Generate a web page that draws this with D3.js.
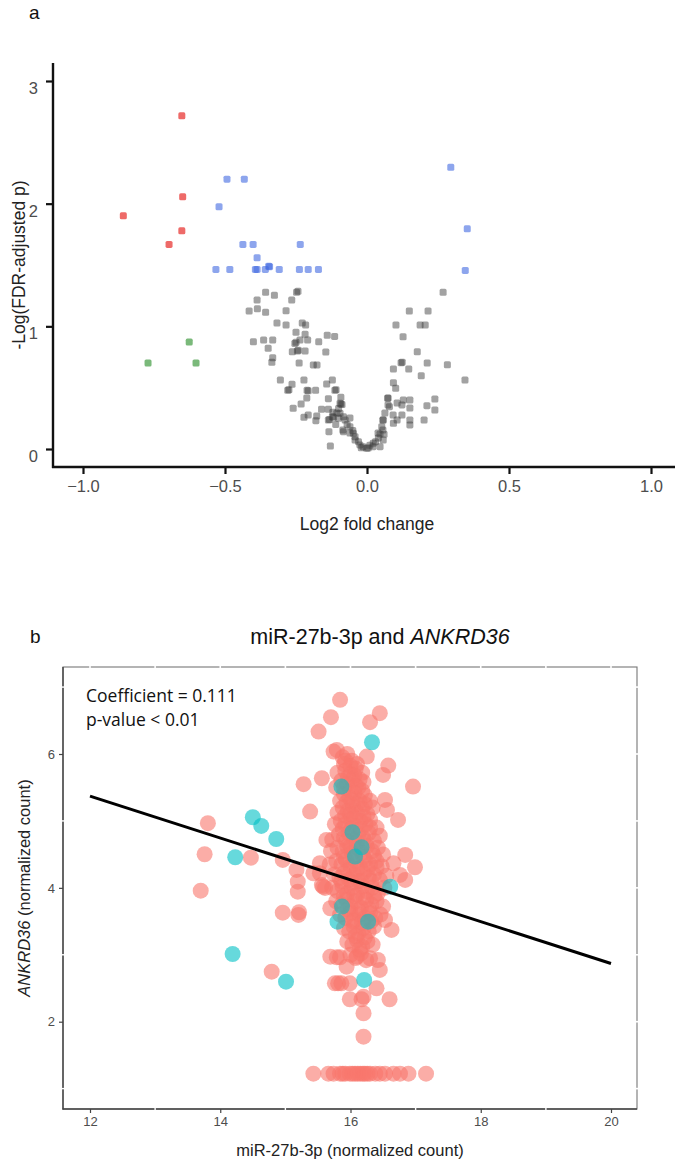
<!DOCTYPE html>
<html>
<head>
<meta charset="utf-8">
<script src="https://cdn.jsdelivr.net/npm/d3@7"></script>
<style>
  body { margin: 0; background: #fff; }
  svg { display: block; }
</style>
</head>
<body>
<svg id="fig" width="675" height="1165"></svg>
<script>
// ---- panel a: volcano data (log2 fold change, -log10 FDR p) ----
let greyPts = [[-0.357,1.277],[-0.326,1.253],[-0.387,1.214],[-0.248,1.277],[-0.243,1.285],[-0.265,1.214],[-0.415,1.125],[-0.386,1.143],[-0.357,1.114],[-0.285,1.127],[-0.317,1.027],[-0.285,1.011],[-0.228,1.027],[-0.216,1.011],[-0.25,0.951],[-0.218,0.935],[-0.14,0.927],[-0.114,0.918],[-0.4,0.874],[-0.364,0.888],[-0.332,0.888],[-0.236,0.888],[-0.209,0.888],[-0.17,0.874],[-0.254,0.861],[-0.25,0.87],[-0.348,0.821],[-0.263,0.793],[-0.245,0.799],[-0.242,0.805],[-0.218,0.799],[-0.145,0.79],[-0.332,0.744],[-0.335,0.707],[-0.239,0.701],[-0.189,0.685],[-0.176,0.685],[-0.305,0.562],[-0.222,0.562],[-0.122,0.562],[-0.264,0.527],[-0.142,0.53],[-0.279,0.478],[-0.275,0.482],[-0.211,0.478],[-0.207,0.474],[-0.181,0.478],[-0.113,0.478],[-0.109,0.482],[-0.212,0.416],[-0.136,0.41],[-0.092,0.421],[-0.232,0.367],[-0.26,0.332],[-0.092,0.367],[-0.088,0.362],[-0.16,0.324],[-0.136,0.324],[-0.207,0.277],[-0.222,0.258],[-0.177,0.269],[-0.18,0.231],[-0.136,0.236],[-0.132,0.24],[-0.122,0.263],[-0.118,0.258],[-0.134,0.141],[-0.129,0.024],[-0.083,0.141],[-0.106,0.293],[-0.06,0.253],[-0.085,0.155],[-0.06,0.13],[-0.042,0.073],[-0.014,0.019],[0.004,0.008],[0.021,0.019],[0.046,0.019],[0.039,0.13],[0.056,0.155],[0.056,0.236],[0.063,0.293],[0.074,0.416],[0.074,0.359],[0.092,0.277],[0.106,0.236],[0.123,0.277],[0.151,0.236],[0.151,0.196],[0.151,0.399],[0.151,0.334],[0.123,0.359],[0.106,0.375],[0.201,0.236],[0.211,0.353],[0.239,0.318],[0.239,0.407],[0.268,1.277],[0.149,1.125],[0.215,1.125],[0.102,1.011],[0.187,1.011],[0.205,1.011],[0.127,0.915],[0.177,0.793],[0.12,0.703],[0.124,0.708],[0.212,0.701],[0.283,0.687],[0.093,0.652],[0.147,0.652],[0.191,0.597],[0.345,0.562],[0.093,0.54],[0.101,0.495],[0.073,0.413],[0.128,0.399],[0.079,0.345],[0.057,0.236],[0.093,0.209],[0.052,0.182],[0.046,0.122],[0.057,0.073],[0.022,0.046],[-0.001,0.006],[-0.025,0.033],[-0.042,0.1],[-0.06,0.182],[-0.083,0.263],[-0.095,0.372],[-0.095,0.291],[-0.077,0.236],[-0.048,0.128],[-0.1,0.25],[-0.11,0.2],[-0.07,0.2],[-0.05,0.15],[-0.03,0.06],[0.03,0.06],[0.01,0.03],[-0.02,0.01],[0.04,0.09],[0.06,0.12],[-0.12,0.3],[-0.1,0.33]];
let bluePts = [[-0.493,2.2],[-0.432,2.2],[-0.521,1.975],[-0.437,1.668],[-0.401,1.668],[-0.235,1.668],[-0.387,1.559],[-0.532,1.464],[-0.483,1.464],[-0.393,1.464],[-0.387,1.464],[-0.358,1.464],[-0.346,1.49],[-0.343,1.486],[-0.309,1.464],[-0.238,1.464],[-0.207,1.464],[-0.171,1.464],[0.295,2.296],[0.353,1.795],[0.346,1.456]];
let redPts = [[-0.652,2.716],[-0.649,2.056],[-0.652,1.779],[-0.697,1.668],[-0.858,1.901]];
let greenPts = [[-0.626,0.872],[-0.771,0.701],[-0.602,0.701]];
let volcXTicks = [-1.0, -0.5, 0.0, 0.5, 1.0];
let volcYTicks = [0, 1, 2, 3];

// ---- panel b: miR-27b-3p vs ANKRD36 ----
let salmonPts = [
  [13.81,4.966],[13.76,4.502],[14.47,4.451],[13.70,3.958],[14.96,4.417],[14.96,3.629],[14.79,2.747],
  [15.21,3.635],[15.19,3.943],[15.19,4.093],[15.17,4.268],[15.43,4.218],[15.56,4.043],[15.61,3.999],
  [15.69,3.695],[15.69,2.972],[15.79,2.963],[15.76,2.574],[16.99,4.308],[16.63,3.371],[16.53,3.52],
  [16.42,2.922],[16.40,2.499],[16.60,2.335],[16.20,2.374],[15.99,2.335],[16.20,2.126],[16.20,1.776],
  [15.86,2.574],[16.30,2.948],[16.45,2.773],[16.76,4.193],[16.84,4.118],[15.20,3.595],[16.17,2.335],
  [15.81,2.574],[15.99,2.574],[15.84,2.963],[15.94,2.822],[16.10,2.972],[15.58,4.018],[15.53,4.218],
  [15.84,6.81],[16.45,6.61],[16.30,6.475],[15.70,6.55],[15.51,6.335],[15.79,6.061],[15.74,6.036],
  [16.25,5.961],[16.58,5.827],[16.50,5.688],[15.28,5.549],[15.56,5.638],[16.96,5.513],[15.38,5.139],
  [16.53,5.314],[16.73,5.015],[16.56,5.164],[15.63,4.716],[15.53,4.368],[16.84,4.492],[16.66,4.368],
  // bottom row (zero counts)
  [15.43,1.223],[15.66,1.223],[15.74,1.223],[15.84,1.223],[15.92,1.223],[15.99,1.223],[16.07,1.223],
  [16.15,1.223],[16.22,1.223],[16.30,1.223],[16.38,1.223],[16.45,1.223],[16.53,1.223],[16.66,1.223],
  [16.76,1.223],[16.89,1.223],[17.16,1.223],[15.88,1.223],[16.03,1.223],[16.11,1.223],[16.19,1.223],[16.26,1.223],
  // dense core
  [15.88,5.95],[15.95,6.0],[16.02,5.9],[16.1,5.85],[15.9,5.85],
  [15.92,5.75],[16.0,5.7],[16.08,5.78],[16.18,5.72],[15.8,5.72],
  [15.86,5.6],[15.95,5.55],[16.03,5.62],[16.12,5.5],[16.2,5.58],[15.78,5.5],
  [15.9,5.4],[15.98,5.35],[16.06,5.42],[16.14,5.3],[16.22,5.38],[16.3,5.3],[15.84,5.3],
  [15.88,5.2],[15.96,5.15],[16.04,5.22],[16.1,5.12],[16.18,5.18],[16.26,5.1],[16.34,5.2],[15.8,5.12],
  [15.85,5.0],[15.92,4.95],[16.0,5.02],[16.08,4.92],[16.15,5.0],[16.23,4.95],[16.3,5.02],[16.4,4.9],[15.76,4.95],
  [15.82,4.8],[15.9,4.75],[15.97,4.82],[16.05,4.72],[16.12,4.8],[16.2,4.74],[16.28,4.82],[16.36,4.7],[16.45,4.78],[15.72,4.72],
  [15.8,4.6],[15.88,4.55],[15.95,4.62],[16.02,4.52],[16.1,4.6],[16.18,4.52],[16.25,4.62],[16.33,4.55],[16.42,4.6],[16.5,4.5],[15.7,4.55],
  [15.78,4.4],[15.86,4.35],[15.93,4.42],[16.0,4.32],[16.08,4.4],[16.15,4.3],[16.22,4.42],[16.3,4.35],[16.4,4.4],[16.48,4.32],[15.68,4.35],
  [15.75,4.2],[15.83,4.15],[15.9,4.22],[15.98,4.12],[16.05,4.2],[16.12,4.1],[16.2,4.22],[16.28,4.15],[16.36,4.2],[16.45,4.12],[16.55,4.18],
  [15.72,4.0],[15.8,3.95],[15.88,4.02],[15.95,3.92],[16.02,4.0],[16.1,3.9],[16.18,4.02],[16.25,3.95],[16.33,4.0],[16.42,3.92],[16.52,4.0],
  [15.78,3.8],[15.86,3.75],[15.94,3.82],[16.0,3.72],[16.08,3.8],[16.16,3.7],[16.24,3.82],[16.32,3.75],[16.4,3.8],[16.5,3.72],
  [15.84,3.6],[15.92,3.55],[16.0,3.62],[16.06,3.52],[16.14,3.6],[16.22,3.55],[16.3,3.62],[16.38,3.55],[16.46,3.6],
  [15.9,3.4],[15.98,3.35],[16.05,3.42],[16.12,3.32],[16.2,3.4],[16.28,3.35],[16.36,3.42],
  [15.95,3.2],[16.03,3.15],[16.1,3.22],[16.18,3.12],[16.26,3.2],[16.34,3.15],
  [16.0,3.0],[16.08,2.95],[16.16,3.02],[16.24,2.92],
  // second layer of the core
  [15.92,5.9],[16.0,5.82],[16.06,5.68],[15.96,5.65],[16.14,5.62],[15.9,5.5],[16.08,5.52],[16.0,5.45],
  [16.18,5.45],[15.94,5.28],[16.1,5.25],[16.02,5.3],[16.22,5.25],[15.92,5.08],[16.06,5.05],[16.2,5.06],
  [16.0,5.1],[15.88,4.88],[16.02,4.88],[16.16,4.88],[16.3,4.9],[15.94,4.7],[16.1,4.68],[16.24,4.68],
  [16.0,4.62],[15.9,4.46],[16.06,4.48],[16.2,4.46],[16.36,4.48],[15.96,4.26],[16.1,4.28],[16.26,4.28],
  [16.4,4.3],[15.86,4.1],[16.02,4.08],[16.16,4.1],[16.32,4.1],[15.9,3.88],[16.06,3.88],[16.2,3.86],
  [16.36,3.88],[15.96,3.68],[16.12,3.66],[16.28,3.68],[16.04,3.5],[16.18,3.48],[16.32,3.5],[16.08,3.28],
  [16.22,3.26],[16.14,3.08]
];
let cyanPts = [[14.50,5.055],[14.63,4.925],[14.86,4.73],[14.23,4.457],[14.19,3.012],[15.01,2.598],[16.33,6.176],[15.86,5.513],[16.03,4.832],[16.17,4.607],[16.07,4.467],[15.80,3.495],[16.27,3.495],[16.21,2.624],[16.61,4.018],[15.87,3.72]];
let fitX = [12, 20];
let fitY = [5.37, 2.87];
let scatXTicks = [12, 14, 16, 18, 20];
let scatYTicks = [2, 4, 6];
let scatXGrid = [12, 13, 14, 15, 16, 17, 18, 19, 20];
let scatYGrid = [1, 2, 3, 4, 5, 6, 7];

let svg = d3.select("#fig");
let sans = "'Liberation Sans', Arial, Helvetica, sans-serif";
let tickGrey = "#4d4d4d";

// ================= panel a =================
let xa = d3.scaleLinear().domain([-1, 1]).range([83, 651]);
let ya = d3.scaleLinear().domain([0, 3]).range([449, 81]);

svg.append("text").attr("x", 29).attr("y", 19).text("a")
  .style("font-family", sans).style("font-size", "19px").style("fill", "#111");

let ga = svg.append("g");

// points: grey first, then significant ones
function drawSquares(data, fill, op) {
  ga.selectAll(null).data(data).enter().append("rect")
    .attr("x", d => xa(d[0]) - 3.5)
    .attr("y", d => ya(d[1]) - 3.5)
    .attr("width", 7).attr("height", 7)
    .attr("rx", 1.6)
    .attr("fill", fill)
    .attr("fill-opacity", op);
}
drawSquares(greyPts, "#3a3a3a", 0.47);
drawSquares(bluePts, "#4169e1", 0.6);
drawSquares(redPts, "#ee6a68", 1);
drawSquares(greenPts, "#228b22", 0.6);

// axes
let axA = d3.axisBottom(xa).tickValues(volcXTicks).tickSize(7).tickPadding(6)
  .tickFormat(d => d3.format(".1f")(d).replace("-", "\u2212"));
let gxa = svg.append("g").attr("transform", "translate(0,467)").call(axA);
gxa.select(".domain").remove();
gxa.selectAll(".tick line").attr("stroke", "#111").attr("stroke-width", 2.2);
gxa.selectAll(".tick text").style("font-family", sans).style("font-size", "16.5px").attr("fill", tickGrey);

let ayA = d3.axisLeft(ya).tickValues(volcYTicks).tickSize(7).tickPadding(8).tickFormat(d3.format("d"));
let gya = svg.append("g").attr("transform", "translate(53,0)").call(ayA);
gya.select(".domain").remove();
gya.selectAll(".tick line").attr("stroke", "#111").attr("stroke-width", 2.2);
gya.selectAll(".tick text").attr("dy", "0.75em").style("font-family", sans).style("font-size", "16.5px").attr("fill", tickGrey);

svg.append("line").attr("x1", 53).attr("x2", 53).attr("y1", 63).attr("y2", 468)
  .attr("stroke", "#111").attr("stroke-width", 2.4);
svg.append("line").attr("x1", 52).attr("x2", 675).attr("y1", 467).attr("y2", 467)
  .attr("stroke", "#111").attr("stroke-width", 2.4);

svg.append("text").attr("x", 367).attr("y", 530).attr("text-anchor", "middle")
  .text("Log2 fold change")
  .style("font-family", sans).style("font-size", "17.5px").style("fill", "#222");
svg.append("text").attr("transform", "translate(25,265) rotate(-90)").attr("text-anchor", "middle")
  .text("-Log(FDR-adjusted p)")
  .style("font-family", sans).style("font-size", "17.5px").style("fill", "#222");

// ================= panel b =================
let xb = d3.scaleLinear().domain([12, 20]).range([90, 611]);
let yb = d3.scaleLinear().domain([2, 6]).range([1021.7, 754]);
let pLeft = 63, pRight = 637, pTop = 667, pBottom = 1109;

svg.append("text").attr("x", 30).attr("y", 643).text("b")
  .style("font-family", sans).style("font-size", "19px").style("fill", "#111");

let title = svg.append("text").attr("x", 380).attr("y", 644).attr("text-anchor", "middle")
  .style("font-family", sans).style("font-size", "21.5px").style("fill", "#111");
title.append("tspan").text("miR-27b-3p and ");
title.append("tspan").style("font-style", "italic").text("ANKRD36");

// panel border (grey), then white grid lines that cut it
svg.append("rect").attr("x", pLeft).attr("y", pTop).attr("width", pRight - pLeft).attr("height", pBottom - pTop)
  .attr("fill", "none").attr("stroke", "#777").attr("stroke-width", 1.1);

let gb = svg.append("g");

// points
gb.selectAll(null).data(salmonPts).enter().append("circle")
  .attr("cx", d => xb(d[0])).attr("cy", d => yb(d[1])).attr("r", 8)
  .attr("fill", "#f8766d").attr("fill-opacity", 0.6);
gb.selectAll(null).data(cyanPts).enter().append("circle")
  .attr("cx", d => xb(d[0])).attr("cy", d => yb(d[1])).attr("r", 8)
  .attr("fill", "#00bfc4").attr("fill-opacity", 0.6);

// regression line
gb.append("line")
  .attr("x1", xb(fitX[0])).attr("y1", yb(fitY[0]))
  .attr("x2", xb(fitX[1])).attr("y2", yb(fitY[1]))
  .attr("stroke", "#000").attr("stroke-width", 3);

// white grid crossings on the border
svg.selectAll(null).data(scatXGrid).enter().append("line")
  .attr("x1", d => xb(d)).attr("x2", d => xb(d))
  .attr("y1", pTop - 2).attr("y2", pTop + 2)
  .attr("stroke", "#fff").attr("stroke-width", 1.6);
svg.selectAll(null).data(scatYGrid).enter().append("line")
  .attr("x1", pRight - 2).attr("x2", pRight + 2)
  .attr("y1", d => yb(d)).attr("y2", d => yb(d))
  .attr("stroke", "#fff").attr("stroke-width", 1.6);

// left and bottom axis lines
svg.append("line").attr("x1", pLeft).attr("x2", pLeft).attr("y1", pTop).attr("y2", pBottom + 0.5)
  .attr("stroke", "#444").attr("stroke-width", 1.4);
svg.append("line").attr("x1", pLeft - 0.5).attr("x2", pRight).attr("y1", pBottom).attr("y2", pBottom)
  .attr("stroke", "#444").attr("stroke-width", 1.4);
// minor breaks in the axis lines
svg.selectAll(null).data(scatYGrid.filter(d => d % 2 === 1)).enter().append("line")
  .attr("x1", pLeft - 2).attr("x2", pLeft + 2)
  .attr("y1", d => yb(d)).attr("y2", d => yb(d))
  .attr("stroke", "#fff").attr("stroke-width", 1.4);
svg.selectAll(null).data(scatXGrid.filter(d => d % 2 === 1)).enter().append("line")
  .attr("x1", d => xb(d)).attr("x2", d => xb(d))
  .attr("y1", pBottom - 2).attr("y2", pBottom + 2)
  .attr("stroke", "#fff").attr("stroke-width", 1.4);

let axB = d3.axisBottom(xb).tickValues(scatXTicks).tickSize(4).tickPadding(4).tickFormat(d3.format("d"));
let gxb = svg.append("g").attr("transform", "translate(0," + pBottom + ")").call(axB);
gxb.select(".domain").remove();
gxb.selectAll(".tick line").attr("stroke", "#444").attr("stroke-width", 1.2);
gxb.selectAll(".tick text").style("font-family", sans).style("font-size", "13px").attr("fill", tickGrey);

let ayB = d3.axisLeft(yb).tickValues(scatYTicks).tickSize(4).tickPadding(4).tickFormat(d3.format("d"));
let gyb = svg.append("g").attr("transform", "translate(" + pLeft + ",0)").call(ayB);
gyb.select(".domain").remove();
gyb.selectAll(".tick line").attr("stroke", "#444").attr("stroke-width", 1.2);
gyb.selectAll(".tick text").style("font-family", sans).style("font-size", "13px").attr("fill", tickGrey);

svg.append("text").attr("x", 350).attr("y", 1156).attr("text-anchor", "middle")
  .text("miR-27b-3p (normalized count)")
  .style("font-family", sans).style("font-size", "16.5px").style("fill", "#222");
let yt = svg.append("text").attr("transform", "translate(30,888) rotate(-90)").attr("text-anchor", "middle")
  .style("font-family", sans).style("font-size", "16.5px").style("fill", "#222");
yt.append("tspan").style("font-style", "italic").text("ANKRD36");
yt.append("tspan").text(" (normalized count)");

// annotation
svg.append("text").attr("x", 86).attr("y", 702).text("Coefficient = 0.111")
  .style("font-family", "'Open Sans', sans-serif").style("font-size", "17.5px").style("fill", "#111");
svg.append("text").attr("x", 86).attr("y", 726).text("p-value < 0.01")
  .style("font-family", "'Open Sans', sans-serif").style("font-size", "17.5px").style("fill", "#111");
</script>
</body>
</html>
